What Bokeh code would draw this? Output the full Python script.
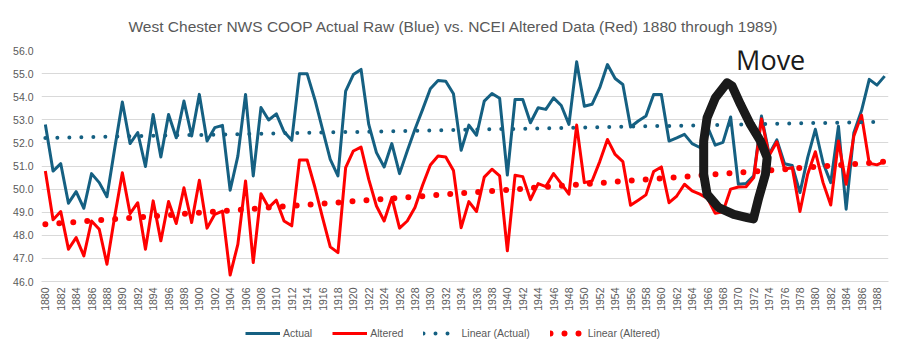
import numpy as np
from bokeh.plotting import figure
from bokeh.layouts import column
from bokeh.models import Range1d, FixedTicker, PrintfTickFormatter, Legend, LegendItem
from bokeh.core.properties import value
from bokeh.embed import file_html
from bokeh.resources import INLINE

# ---------------- data ----------------
years = list(range(1880, 1990))

actual = [
    52.80, 50.78, 51.10, 49.39, 49.89, 49.17, 50.67, 50.28, 49.67, 51.75,
    53.77, 51.97, 52.45, 50.98, 53.23, 51.39, 53.23, 52.22, 53.81, 52.30,
    54.10, 52.08, 52.66, 52.76, 49.95, 51.43, 54.10, 50.57, 53.53, 52.99,
    53.26, 52.48, 52.11, 54.99, 54.99, 53.88, 52.59, 51.29, 50.57, 54.24,
    54.96, 55.18, 52.80, 51.58, 50.96, 51.97, 50.67, 51.65, 52.59, 53.45,
    54.34, 54.70, 54.67, 54.13, 51.68, 52.77, 52.33, 53.81, 54.14, 53.93,
    50.61, 53.88, 53.88, 52.87, 53.52, 53.45, 53.95, 53.62, 52.80, 55.51,
    53.59, 53.67, 54.39, 55.39, 54.79, 54.53, 52.69, 52.95, 53.16, 54.10,
    54.10, 52.08, 52.22, 52.37, 51.97, 51.80, 52.70, 51.90, 52.02, 53.12,
    50.21, 50.24, 50.57, 53.16, 51.51, 52.13, 51.10, 51.02, 49.85, 51.36,
    52.59, 51.14, 50.28, 52.72, 49.13, 52.44, 53.40, 54.75, 54.50, 54.89,
]

altered = [
    50.78, 48.67, 49.03, 47.40, 47.90, 47.11, 48.62, 48.26, 46.75, 48.80,
    50.71, 48.94, 49.41, 47.40, 49.49, 47.76, 49.46, 48.51, 50.06, 48.55,
    50.38, 48.31, 48.91, 49.05, 46.28, 47.61, 50.35, 46.82, 49.80, 49.20,
    49.52, 48.62, 48.41, 51.26, 51.26, 50.09, 48.77, 47.50, 47.25, 50.93,
    51.65, 51.82, 50.42, 49.27, 48.62, 49.63, 48.31, 48.62, 49.20, 50.18,
    51.04, 51.43, 51.39, 50.81, 48.33, 49.46, 49.03, 50.52, 50.86, 50.57,
    47.33, 50.60, 50.54, 49.54, 50.24, 50.11, 50.67, 50.24, 49.78, 52.77,
    50.28, 50.35, 51.19, 52.15, 51.50, 51.19, 49.30, 49.52, 49.75, 50.76,
    50.96, 49.41, 49.70, 50.21, 49.92, 49.78, 49.60, 48.95, 49.02, 50.00,
    50.09, 50.10, 50.50, 53.04, 51.45, 52.05, 50.86, 50.93, 49.03, 50.64,
    51.62, 50.28, 49.31, 52.08, 50.21, 52.30, 53.20, 51.12, 51.05, 51.20,
]

x_tick_years = list(range(1880, 1990, 2))
y_ticks = [46, 47, 48, 49, 50, 51, 52, 53, 54, 55, 56]

title_text = "West Chester NWS COOP Actual Raw (Blue) vs. NCEI Altered Data (Red) 1880 through 1989)"
series_labels = ["Actual", "Altered", "Linear (Actual)", "Linear (Altered)"]

# hand-drawn annotation (black loop + "Move")
annotation_text = "Move"
annotation_text_pos = (1974.2, 55.62)
annotation_loop_years = [1968.54, 1967.02, 1965.94, 1965.50, 1965.50, 1965.94, 1967.45,
                         1969.40, 1971.14, 1971.96, 1972.65, 1973.52, 1973.74, 1972.87,
                         1971.57, 1970.27, 1969.19, 1968.54]
annotation_loop_values = [54.60, 53.95, 53.09, 52.08, 50.64, 49.78, 49.20,
                          48.91, 48.77, 48.71, 49.63, 50.64, 51.36, 52.08,
                          52.80, 53.67, 54.46, 54.60]

BLUE = "#156082"
RED = "#FF0000"
TEXT = "#595959"
GRID = "#D9D9D9"
FONT = "Liberation Sans"

# linear trend lines (least squares, like Excel's linear trendline)
yr = np.array(years, dtype=float)
ca = np.polyfit(yr, np.array(actual), 1)
cb = np.polyfit(yr, np.array(altered), 1)
trend_x = [years[0], years[-1]]
trend_actual = [float(np.polyval(ca, v)) for v in trend_x]
trend_altered = [float(np.polyval(cb, v)) for v in trend_x]

STYLES = [
    dict(line_color=BLUE, line_width=3, line_join="round"),
    dict(line_color=RED, line_width=3, line_join="round"),
    dict(line_color=BLUE, line_width=4, line_dash="0 12", line_cap="round"),
    dict(line_color=RED, line_width=6, line_dash="0 14", line_cap="round"),
]
SERIES_X = [years, years, trend_x, trend_x]
SERIES_Y = [actual, altered, trend_actual, trend_altered]

# ---------------- main figure ----------------
p = figure(width=903, height=314, output_backend="svg", toolbar_location=None,
           x_range=Range1d(1879.5, 1989.5), y_range=Range1d(46, 56),
           min_border_left=41, min_border_right=15, min_border_top=49, min_border_bottom=33)
p.outline_line_color = None
p.background_fill_color = "white"
p.border_fill_color = "white"

p.title.text = title_text
p.title.align = "left"
p.title.offset = 87
p.title.text_font = FONT
p.title.text_font_size = "15.5px"
p.title.text_font_style = "normal"
p.title.text_color = TEXT
p.title.standoff = 31

p.xgrid.visible = False
p.ygrid.grid_line_color = GRID
p.ygrid.grid_line_width = 1
p.ygrid.ticker = FixedTicker(ticks=y_ticks)

xa = p.xaxis[0]
xa.ticker = FixedTicker(ticks=x_tick_years)
xa.major_label_orientation = np.pi / 2
xa.major_tick_line_color = None
xa.minor_tick_line_color = None
xa.major_tick_out = 0
xa.major_tick_in = 0
xa.axis_line_color = GRID
xa.major_label_text_font = FONT
xa.major_label_text_font_size = "10.5px"
xa.major_label_text_color = TEXT
xa.major_label_standoff = 6

ya = p.yaxis[0]
ya.ticker = FixedTicker(ticks=y_ticks)
ya.formatter = PrintfTickFormatter(format="%.1f")
ya.axis_line_color = None
ya.major_tick_line_color = None
ya.minor_tick_line_color = None
ya.major_tick_out = 0
ya.major_tick_in = 0
ya.major_label_text_font = FONT
ya.major_label_text_font_size = "10.5px"
ya.major_label_text_color = TEXT
ya.major_label_standoff = 8

for xs, ys, st in zip(SERIES_X, SERIES_Y, STYLES):
    p.line(xs, ys, **st)

# annotation
p.line(annotation_loop_years, annotation_loop_values, line_color="#1a1a1a", line_width=9,
       line_join="round", line_cap="round")
p.text(x=[annotation_text_pos[0]], y=[annotation_text_pos[1]], text=[annotation_text],
       text_font=value("Open Sans"), text_font_size="27px", text_color="#1a1a1a",
       text_align="center", text_baseline="alphabetic")

# ---------------- legend strip ----------------
# same series drawn into a strip whose ranges keep them out of view: only the legend shows
lg = figure(width=903, height=39, output_backend="svg", toolbar_location=None,
            x_range=Range1d(0, 1), y_range=Range1d(0, 1),
            x_axis_location=None, y_axis_location=None,
            min_border_left=0, min_border_right=0, min_border_top=0, min_border_bottom=0)
lg.outline_line_color = None
lg.xgrid.visible = False
lg.ygrid.visible = False
lg.border_fill_color = "white"
lg.background_fill_color = "white"

items = []
for lab, xs, ys, st in zip(series_labels, SERIES_X, SERIES_Y, STYLES):
    r = lg.line(xs, ys, **st)
    items.append(LegendItem(label=lab, renderers=[r]))

legend = Legend(items=items, orientation="horizontal", location=(204, 14))
legend.border_line_color = None
legend.background_fill_alpha = 0
legend.label_text_font = FONT
legend.label_text_font_size = "10.5px"
legend.label_text_color = TEXT
legend.glyph_width = 35
legend.glyph_height = 12
legend.label_standoff = 3
legend.spacing = 20
legend.padding = 4
legend.margin = 0
legend.label_height = 12
lg.add_layout(legend)

layout = column(p, lg, spacing=0)

open("out.html", "w").write(file_html(layout, INLINE))
